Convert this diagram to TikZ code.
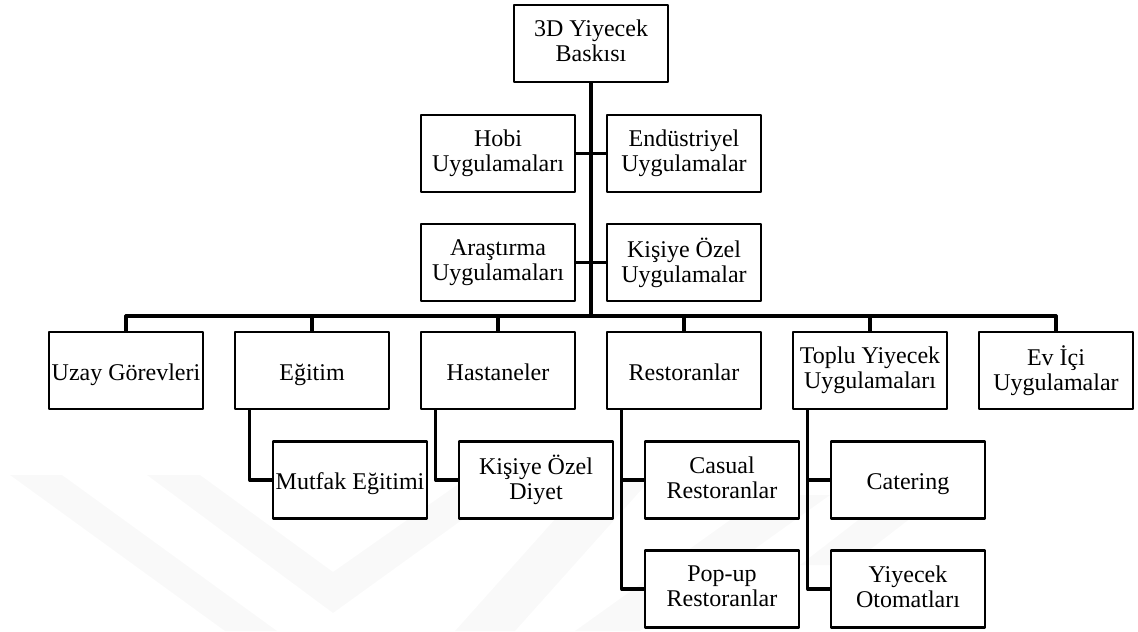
\documentclass[tikz,border=0pt]{standalone}
\usepackage{fontspec}
\setmainfont{Liberation Serif}
\tikzset{kutu/.style={draw,fill=white,line width=1.3pt,minimum width=77pt,minimum height=38.5pt,inner sep=1pt,align=center,font=\fontsize{12}{12.5}\selectfont,
    execute at begin node=\rule{0pt}{12.2pt},execute at end node=\rule[-2.7pt]{0pt}{2.7pt}},
  hat/.style={line width=1.6pt},
  filigran/.style={fill=gray!5}}
\begin{document}
\begin{tikzpicture}[line cap=round,line join=round,x=0.5pt,y=-0.5pt]
        \useasboundingbox (0,0) rectangle (1138,631);
        \fill[filigran] (10,475) -- (62,475) -- (277,631) -- (225,631) -- cycle;
        \fill[filigran] (147,475) -- (200,475) -- (333,572) -- (467,478) -- (520,478) -- (333,613) -- cycle;
        \fill[filigran] (455,631) -- (515,631) -- (650,480) -- (590,480) -- cycle;
        \fill[filigran] (575,631) -- (640,631) -- (830,495) -- (765,495) -- cycle;
        \fill[filigran] (800,565) -- (850,565) -- (960,480) -- (910,480) -- cycle;
        \node[kutu] (kok) at (591,43.5) {3D Yiyecek\\Baskısı};
        \node[kutu] (hobi) at (498,153.5) {Hobi\\Uygulamaları};
        \node[kutu] (endustri) at (684,153.5) {Endüstriyel\\Uygulamalar};
        \node[kutu] (arastirma) at (498,262.5) {Araştırma\\Uygulamaları};
        \node[kutu] (kisiye) at (684,262.5) {Kişiye Özel\\Uygulamalar};
        \coordinate (bar) at (591,316);
        \node[kutu] (uzay) at (126,370.5) {Uzay Görevleri};
        \node[kutu] (egitim) at (312,370.5) {Eğitim};
        \node[kutu] (hastane) at (498,370.5) {Hastaneler};
        \node[kutu] (restoran) at (684,370.5) {Restoranlar};
        \node[kutu] (toplu) at (870,370.5) {Toplu Yiyecek\\Uygulamaları};
        \node[kutu] (evici) at (1056,370.5) {Ev İçi\\Uygulamalar};
        \node[kutu] (mutfak) at (350,480) {Mutfak Eğitimi};
        \node[kutu] (diyet) at (536,480) {Kişiye Özel\\Diyet};
        \node[kutu] (casual) at (722,480) {Casual\\Restoranlar};
        \node[kutu] (catering) at (908,480) {Catering};
        \node[kutu] (popup) at (722,589) {Pop-up\\Restoranlar};
        \node[kutu] (otomat) at (908,589) {Yiyecek\\Otomatları};
        \draw[hat] (kok) -- (kok |- bar);
        \draw[hat] (hobi) -- (endustri);
        \draw[hat] (arastirma) -- (kisiye);
        \draw[hat] (uzay |- bar) -- (evici |- bar);
        \foreach \k in {uzay,egitim,hastane,restoran,toplu,evici}
          \draw[hat] (\k.north) -- (\k |- bar);
        \foreach \a/\b in {egitim/mutfak,hastane/diyet,restoran/casual,restoran/popup,toplu/catering,toplu/otomat}
          \draw[hat] ([xshift=8pt]\a.south west) |- (\b.west);
      \end{tikzpicture}
\end{document}
